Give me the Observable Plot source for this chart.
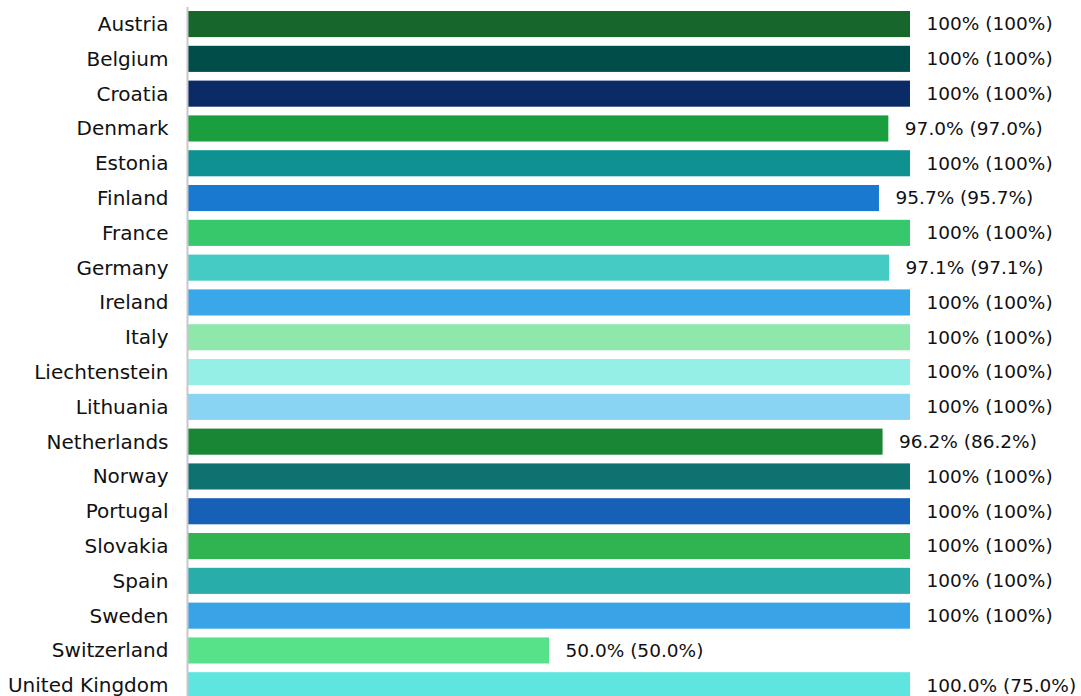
<!DOCTYPE html>
<html>
<head>
<meta charset="utf-8">
<script src="https://cdn.jsdelivr.net/npm/d3@7"></script>
<script src="https://cdn.jsdelivr.net/npm/@observablehq/plot@0.6"></script>
<style>
  html, body { margin: 0; padding: 0; background: #fff; }
  #chart svg { display: block; }
</style>
</head>
<body>
<div id="chart"></div>
<script>
const countries = ["Austria","Belgium","Croatia","Denmark","Estonia","Finland","France","Germany","Ireland","Italy","Liechtenstein","Lithuania","Netherlands","Norway","Portugal","Slovakia","Spain","Sweden","Switzerland","United Kingdom"];
const values = [100,100,100,97.0,100,95.7,100,97.1,100,100,100,100,96.2,100,100,100,100,100,50.0,100.0];
const labels = ["100% (100%)","100% (100%)","100% (100%)","97.0% (97.0%)","100% (100%)","95.7% (95.7%)","100% (100%)","97.1% (97.1%)","100% (100%)","100% (100%)","100% (100%)","100% (100%)","96.2% (86.2%)","100% (100%)","100% (100%)","100% (100%)","100% (100%)","100% (100%)","50.0% (50.0%)","100.0% (75.0%)"];
const colors = ["#17672c","#004d49","#0a2b65","#1b9e3d","#109191","#1978cf","#36c86a","#45cbc4","#39a7e8","#8ee8ac","#95efe6","#89d4f2","#188635","#0e7370","#1760b7","#30b452","#28adaa","#38a4e7","#57e189","#5fe5e0"];

const data = countries.map((c, i) => ({country: c, value: values[i], label: labels[i], color: colors[i]}));

const chart = Plot.plot({
  width: 1081,
  height: 696,
  marginLeft: 188,
  marginRight: 171,
  marginTop: 0,
  marginBottom: 0,
  style: {fontFamily: "DejaVu Sans", background: "#fff", overflow: "hidden"},
  x: {domain: [0, 100], axis: null},
  y: {domain: countries, range: [2.3, 707], padding: 0.25, round: false, label: null},
  marks: [
    Plot.barX(data, {x: "value", y: "country", fill: "color"}),
    Plot.ruleX([0], {insetTop: 7, stroke: "#c8c8cc", strokeWidth: 2, dx: -1}),
    Plot.text(data, {x: "value", y: "country", text: "label", textAnchor: "start", dx: 16, fontSize: 18.5, fill: "#111"}),
    Plot.axisY({tickSize: 0, tickPadding: 20, fontSize: 20, fill: "#111", label: null})
  ]
});
document.getElementById("chart").appendChild(chart);
</script>
</body>
</html>
